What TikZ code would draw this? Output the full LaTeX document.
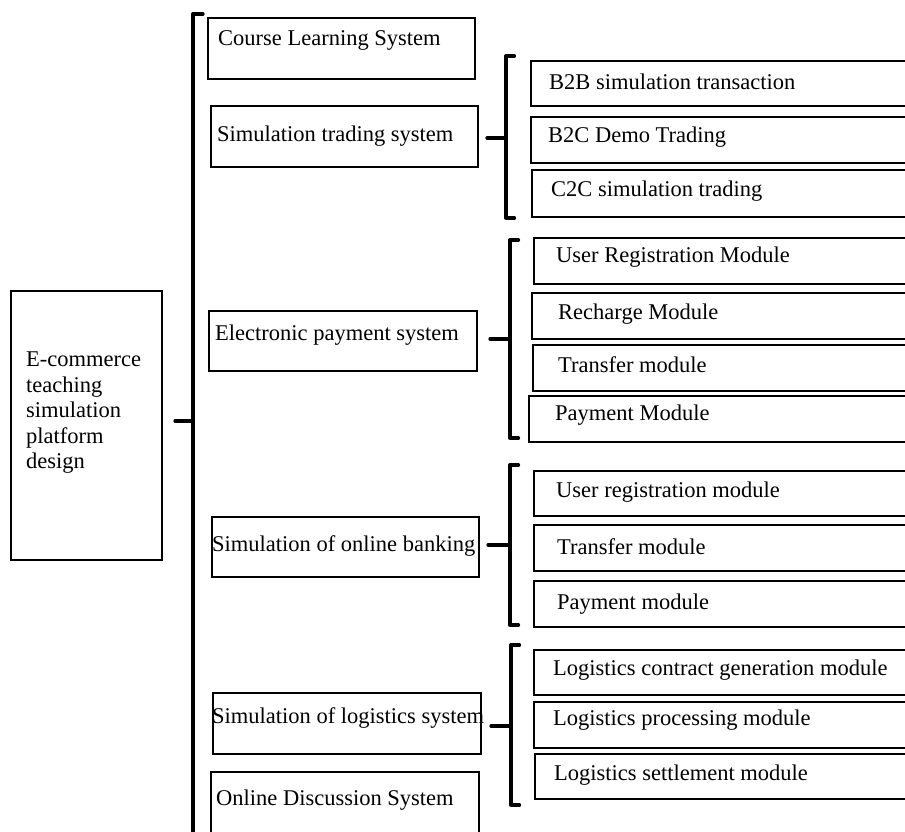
\documentclass[tikz,border=0pt]{standalone}
\usepackage{fontspec}
\setmainfont{Liberation Serif}
\usetikzlibrary{positioning}

\tikzset{
  box/.style={draw, line width=1.7pt, anchor=north west, inner sep=0pt},
  lbl/.style={anchor=west, inner sep=0pt, yshift=-2pt, font=\fontsize{22.5}{25.5}\selectfont},
  brk/.style={line width=3.3pt, line join=round, line cap=round},
}

\begin{document}
\begin{tikzpicture}[x=1pt, y=-1pt]
\clip (0,0) rectangle (905,832);
\fill[white] (0,0) rectangle (905,832);

% root
\node[box, minimum width=151pt, minimum height=269pt] (root) at (10,290) {};
\node[lbl, align=left] (roottxt) at (26,411) {E-commerce\\teaching\\simulation\\platform\\design};

% main bracket
\coordinate (mtop) at (193,14);
\coordinate (mbot) at (193,850);
\coordinate (mstub) at (175,421);
\coordinate (mmid) at (193,421);
\draw[brk] ([xshift=10pt]mtop) -- (mtop) -- (mbot);
\draw[brk] (mstub) -- (mmid);

% first level
\node[box, minimum width=267pt, minimum height=61pt] (cls) at (207,17) {};
\node[box, minimum width=267pt, minimum height=61pt] (sts) at (210,105) {};
\node[box, minimum width=268pt, minimum height=60pt] (eps) at (208,310) {};
\node[box, minimum width=267pt, minimum height=60pt] (sob) at (211,516) {};
\node[box, minimum width=268pt, minimum height=61pt] (sls) at (212,692) {};
\node[box, minimum width=268pt, minimum height=70pt] (ods) at (210,771) {};
\node[lbl] at (218,38) {Course Learning System};
\node[lbl] at (217,134) {Simulation trading system};
\node[lbl] at (215,333) {Electronic payment system};
\node[lbl] at (212,544) {Simulation of online banking};
\node[lbl] at (212,716) {Simulation of logistics system};
\node[lbl] at (216,798) {Online Discussion System};

% sub brackets
\foreach \bx/\btop/\bbot/\sx/\sy/\nm in {506/56/218/487/138/ba,
    510/240/438/490/339/bb, 510/465/625/488/545/bc, 511/645/805/491/726/bd}{
  \coordinate (\nm t) at (\bx,\btop);
  \coordinate (\nm b) at (\bx,\bbot);
  \coordinate (\nm s) at (\sx,\sy);
  \coordinate (\nm m) at (\bx,\sy);
  \draw[brk] ([xshift=8.5pt]\nm t) -- (\nm t) -- (\nm b) -- ([xshift=8.5pt]\nm b);
  \draw[brk] (\nm s) -- (\nm m);
}

% second level
\foreach \nm/\x/\y/\h/\tx/\ty/\txt in {
    b2b/530/60/45/549/80/B2B simulation transaction,
    b2c/530/116/46/548/135/B2C Demo Trading,
    c2c/531/169/47/551/189/C2C simulation trading,
    urm/533/237/46/556/255/User Registration Module,
    rcm/531/292/46/558/312/Recharge Module,
    trm/532/344/46/558/363/Transfer module,
    pym/528/395/46/555/413/Payment Module,
    urb/533/470/45/556/490/User registration module,
    trb/533/524/46/557/545/Transfer module,
    pmb/533/580/46/557/602/Payment module,
    lcg/533/649/45/553/668/Logistics contract generation module,
    lpm/533/701/46/553/718/Logistics processing module,
    lsm/534/753/45/554/773/Logistics settlement module}{
  \node[box, minimum width=400pt, minimum height=\h pt] (\nm) at (\x,\y) {};
  \node[lbl] (\nm txt) at (\tx,\ty) {\txt};
}
\end{tikzpicture}
\end{document}
